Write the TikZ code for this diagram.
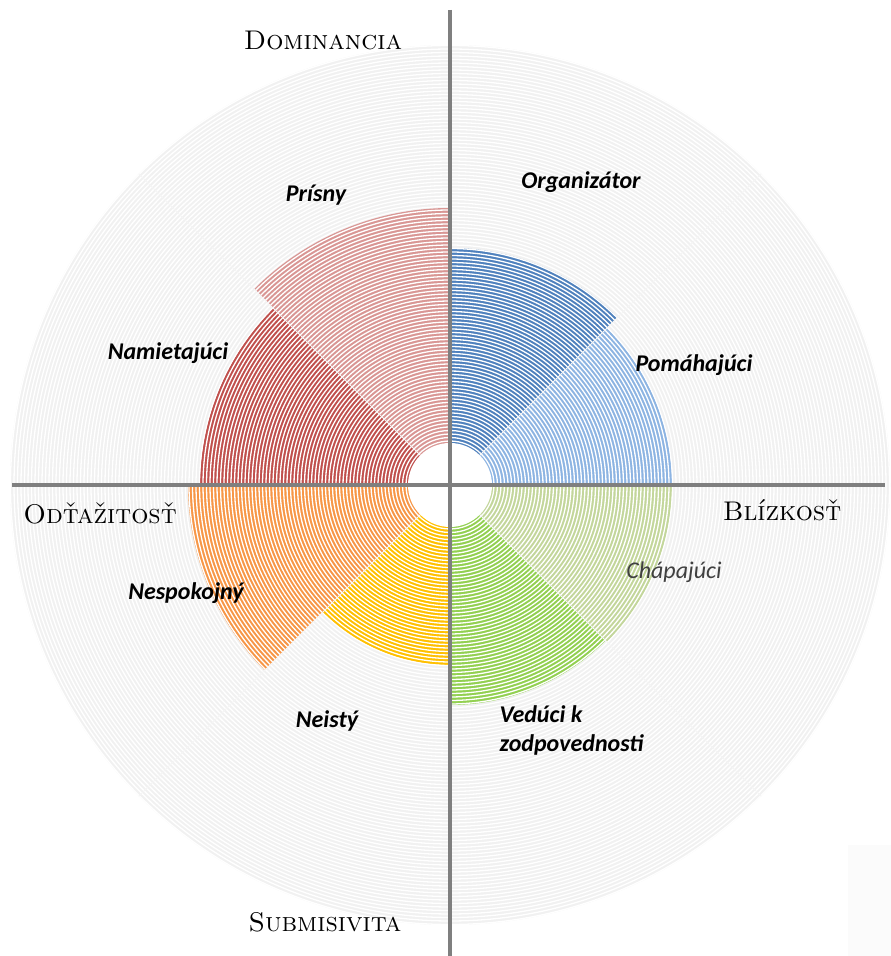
\documentclass[tikz,border=0pt]{standalone}
\usepackage{fontspec}
\newfontfamily\calib{Carlito}
\definecolor{cPom}{HTML}{8DB4E2}
\definecolor{cOrg}{HTML}{4F81BD}
\definecolor{cPri}{HTML}{D99694}
\definecolor{cNam}{HTML}{C0504D}
\definecolor{cNes}{HTML}{F79646}
\definecolor{cNei}{HTML}{FFC000}
\definecolor{cVed}{HTML}{92D050}
\definecolor{cCha}{HTML}{C3D69B}
\definecolor{axisgray}{HTML}{7F7F7F}
\tikzset{
  seclabel/.style={font=\calib\bfseries\itshape\fontsize{24}{29}\selectfont, text=black, align=left},
  axlabel/.style={font=\fontsize{27}{32}\selectfont\scshape, text=black},
  axisline/.style={draw=axisgray, line width=3.5pt},
}
\begin{document}
\begin{tikzpicture}[x=1pt,y=1pt]
\useasboundingbox (0,0) rectangle (891,956);
\fill[white] (0,0) rectangle (891,956);
\fill[gray!3] (848,0) rectangle (891,111);
\coordinate (c) at (450,471);
% background disc
\fill[gray!11] (c) circle (440);
% sectors
\fill[cPom] (c) -- ++(0:222) arc (0:45:222) -- cycle;
\fill[cOrg] (c) -- ++(45:237) arc (45:90:237) -- cycle;
\fill[cPri] (c) -- ++(90:277) arc (90:135:277) -- cycle;
\fill[cNam] (c) -- ++(135:250) arc (135:180:250) -- cycle;
\fill[cNes] (c) -- ++(180:262) arc (180:225:262) -- cycle;
\fill[cNei] (c) -- ++(225:180) arc (225:270:180) -- cycle;
\fill[cVed] (c) -- ++(270:220) arc (270:315:220) -- cycle;
\fill[cCha] (c) -- ++(315:222) arc (315:360:222) -- cycle;
% stripes
\foreach \r in {44,47.5,...,440} \draw[white, line width=1.3pt] (c) circle (\r);
% faint radial divisions
\foreach \a in {45,135,225,315} \draw[white!92!gray, line width=0.8pt] (c) ++(\a:42) -- ++(\a:398);
% hole
\fill[white] (c) circle (42);
% axes
\coordinate (vtop) at (450,946);
\coordinate (vbot) at (450,0);
\coordinate (hl) at (12,471);
\coordinate (hr) at (885,471);
\draw[axisline] (vtop) -- (vbot);
\draw[axisline] (hl) -- (hr);
% axis labels
\node[axlabel] (dom) at (323,916) {Dominancia};
\node[axlabel] (odt) at (100,443) {Odťažitosť};
\node[axlabel] (bli) at (782,446) {Blízkosť};
\node[axlabel] (sub) at (325,34) {Submisivita};
% sector labels
\node[seclabel] (pri) at (316,761) {Prísny};
\node[seclabel] (org) at (581,774) {Organizátor};
\node[seclabel] (nam) at (168,603) {Namietajúci};
\node[seclabel] (pom) at (694,591) {Pomáhajúci};
\node[seclabel] (nes) at (186,363) {Nespokojný};
\node[seclabel, font=\calib\itshape\fontsize{24}{29}\selectfont, text=black!75] (cha) at (674,384) {Chápajúci};
\node[seclabel] (nei) at (327,235) {Neistý};
\node[seclabel, anchor=west] (ved) at (496,226) {Vedúci k\\zodpovednosti};
\end{tikzpicture}
\end{document}
